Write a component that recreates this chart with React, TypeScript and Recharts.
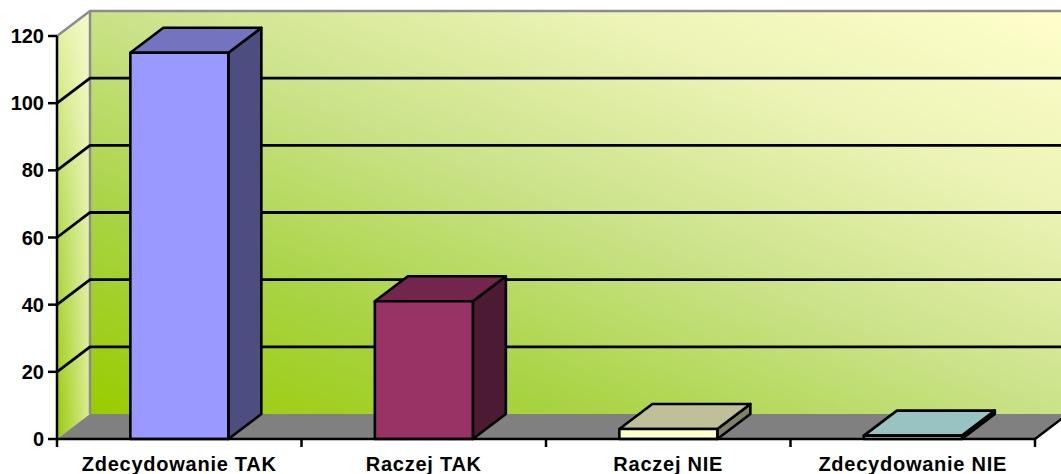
import React from 'react';
import { BarChart, Bar, XAxis, YAxis, CartesianGrid, ReferenceArea } from 'recharts';

const categories = ['Zdecydowanie TAK', 'Raczej TAK', 'Raczej NIE', 'Zdecydowanie NIE'];
const values = [115, 41, 3, 1];
const yTicks = [0, 20, 40, 60, 80, 100, 120];
const gridValues = [20, 40, 60, 80, 100];

const data = categories.map((name, i) => ({ name, value: values[i] }));

const DX = 33;
const DY = -25;
const FONT = '"Liberation Sans", Arial, Helvetica, sans-serif';

const faces = [
  { front: '#9999FF', top: '#7373BF', side: '#4D4D80' },
  { front: '#993366', top: '#73264D', side: '#4D1A33' },
  { front: '#FFFFCC', top: '#BFBF99', side: '#808066' },
  { front: '#CCFFFF', top: '#99C2C2', side: '#668080' },
];

const Walls = (p: any) => {
  const { x, y, width, height } = p;
  const bx = x + DX;
  const by = y + DY;
  const floorY = y + height;
  return (
    <g>
      <defs>
        <linearGradient id="backWallGrad" x1="0" y1="1" x2="1" y2="0">
          <stop offset="0" stopColor="#99CC00" />
          <stop offset="0.25" stopColor="#A8D342" />
          <stop offset="0.5" stopColor="#CAE288" />
          <stop offset="0.75" stopColor="#ECF3B5" />
          <stop offset="1" stopColor="#FFFFCC" />
        </linearGradient>
        <linearGradient id="leftWallBase" x1="0" y1="0" x2="0" y2="1">
          <stop offset="0" stopColor="#E6F2A8" />
          <stop offset="0.5" stopColor="#B4DA50" />
          <stop offset="1" stopColor="#98CA08" />
        </linearGradient>
        <linearGradient id="leftWallShine" x1="0" y1="0" x2="1" y2="0">
          <stop offset="0" stopColor="#FFFFE0" stopOpacity="0" />
          <stop offset="1" stopColor="#FFFFE0" stopOpacity="0.65" />
        </linearGradient>
      </defs>
      <rect x={bx} y={by} width={width} height={height} fill="url(#backWallGrad)" />
      <polygon
        points={`${x},${y} ${bx},${by} ${bx},${by + height} ${x},${floorY}`}
        fill="url(#leftWallBase)"
      />
      <polygon
        points={`${x},${y} ${bx},${by} ${bx},${by + height} ${x},${floorY}`}
        fill="url(#leftWallShine)"
      />
      <polygon
        points={`${x},${floorY} ${bx},${floorY + DY} ${bx + width},${floorY + DY} ${x + width},${floorY}`}
        fill="#808080"
      />
      <polyline
        points={`${x},${y} ${bx},${by} ${bx + width + 10},${by}`}
        fill="none"
        stroke="#8C8C8C"
        strokeWidth={2.5}
      />
      <line x1={bx} y1={by} x2={bx} y2={floorY + DY} stroke="#8C8C8C" strokeWidth={2.5} />
      <line
        x1={x + width}
        y1={floorY}
        x2={bx + width}
        y2={floorY + DY}
        stroke="#000"
        strokeWidth={2.5}
      />
    </g>
  );
};

const gridLine = (p: any) => {
  const { x1, y1, x2 } = p;
  return (
    <polyline
      key={p.key}
      points={`${x1},${y1} ${x1 + DX},${y1 + DY} ${x2 + DX + 10},${y1 + DY}`}
      fill="none"
      stroke="#000"
      strokeWidth={2.8}
    />
  );
};

const Bar3D = (p: any) => {
  const { x, y, width, height, index } = p;
  const c = faces[index % faces.length];
  const r = x + width;
  const b = y + height;
  return (
    <g stroke="#000" strokeWidth={2.6} strokeLinejoin="round">
      <polygon
        points={`${r},${y} ${r + DX},${y + DY} ${r + DX},${b + DY} ${r},${b}`}
        fill={c.side}
      />
      <polygon
        points={`${x},${y} ${x + DX},${y + DY} ${r + DX},${y + DY} ${r},${y}`}
        fill={c.top}
      />
      <rect x={x} y={y} width={width} height={height} fill={c.front} />
    </g>
  );
};

const XTick = (p: any) => {
  const { x, y, payload, index } = p;
  const off = payload && typeof payload.offset === 'number' && payload.offset > 0 ? payload.offset : 122.25;
  const axisY = y - 8;
  return (
    <g>
      <line x1={x + off} y1={axisY} x2={x + off} y2={axisY + 8} stroke="#000" strokeWidth={2.5} />
      {index === 0 && (
        <line x1={x - off} y1={axisY} x2={x - off} y2={axisY + 8} stroke="#000" strokeWidth={2.5} />
      )}
      <text
        x={x}
        y={axisY + 32}
        textAnchor="middle"
        fontFamily={FONT}
        fontWeight="bold"
        fontSize={20}
        letterSpacing={0.75}
        fill="#000"
      >
        {payload.value}
      </text>
    </g>
  );
};

export default function App() {
  return (
    <div style={{ position: 'absolute', left: 0, top: 0, width: 1061, height: 474, background: '#fff' }}>
      <BarChart
        width={1061}
        height={474}
        data={data}
        margin={{ top: 36, right: 26, left: 0, bottom: 0 }}
        barCategoryGap="30%"
      >
        <ReferenceArea y1={0} y2={120} shape={Walls} zIndex={-200} ifOverflow="visible" />
        <CartesianGrid
          vertical={false}
          horizontal={gridLine}
          horizontalValues={gridValues}
          fill="none"
        />
        <XAxis
          dataKey="name"
          height={35}
          interval={0}
          tickLine={false}
          tickSize={6}
          tickMargin={2}
          axisLine={{ stroke: '#000', strokeWidth: 2.5 }}
          tick={XTick}
        />
        <YAxis
          domain={[0, 120]}
          ticks={yTicks}
          width={57}
          tickSize={9}
          tickMargin={4}
          interval={0}
          axisLine={{ stroke: '#000', strokeWidth: 2.5 }}
          tickLine={{ stroke: '#000', strokeWidth: 2.5 }}
          tick={{ fontSize: 20, fontWeight: 'bold', fill: '#000', fontFamily: FONT }}
        />
        <Bar dataKey="value" shape={Bar3D} isAnimationActive={false} />
      </BarChart>
    </div>
  );
}
